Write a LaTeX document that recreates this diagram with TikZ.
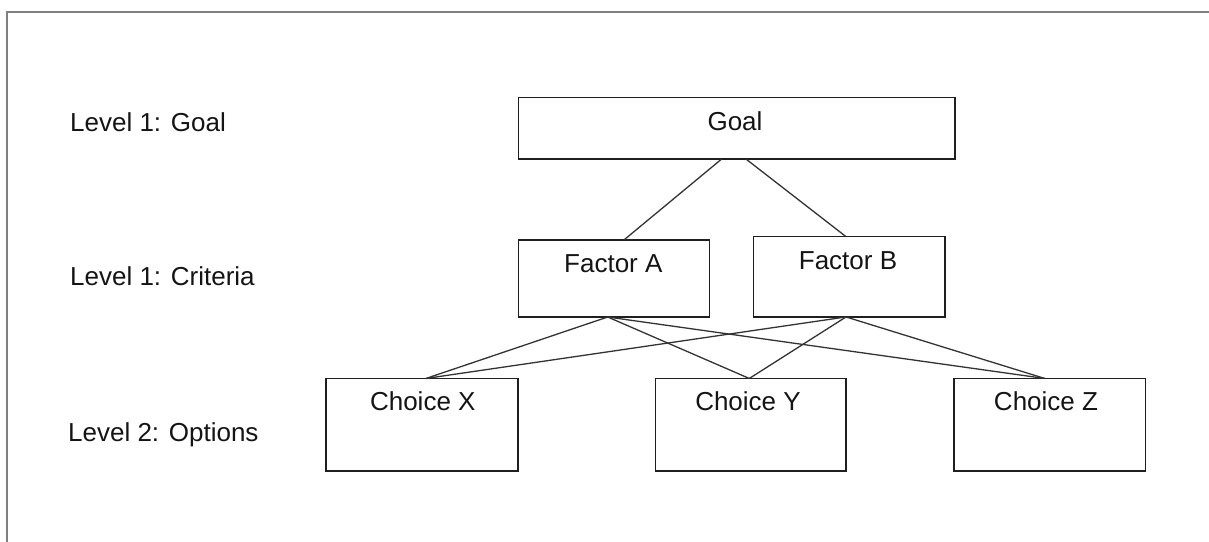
\documentclass[tikz,border=0pt]{standalone}
\usepackage{fontspec}
\setmainfont{Liberation Sans}
\usetikzlibrary{calc}
\begin{document}
\begin{tikzpicture}[x=1pt,y=-1pt,
  framecol/.style={draw=black!50,line width=2pt},
  hbox/.style={draw=black!88,line width=1.4pt,rectangle,inner sep=0pt,outer sep=0pt},
  lbl/.style={inner sep=0pt,text=black!92,font=\fontsize{26}{30}\selectfont},
  link/.style={draw=black!80,line width=1.3pt}]
\useasboundingbox (0,0) rectangle (1209,541);
% open frame around the sheet
\draw[framecol] (7,545) -- (7,11.7) -- (1215,11.7);

% level captions
\node[lbl,anchor=base west] (lgoal) at (70,131.5) {Level 1: Goal};
\node[lbl,anchor=base west] (lcrit) at (70,285) {Level 1: Criteria};
\node[lbl,anchor=base west] (lopt)  at (68,441) {Level 2: Options};

% boxes
\node[hbox,minimum width=436.7pt,minimum height=61.7pt] (goal) at (736.6,128.2) {};
\node[hbox,minimum width=191.2pt,minimum height=77pt]   (fa)   at (613.9,278.5) {};
\node[hbox,minimum width=191.7pt,minimum height=80.3pt] (fb)   at (849.2,276.8) {};
\node[hbox,minimum width=192pt,minimum height=92.5pt]   (cx)   at (422,424.7) {};
\node[hbox,minimum width=190.5pt,minimum height=92.5pt] (cy)   at (750.7,424.7) {};
\node[hbox,minimum width=191.5pt,minimum height=92.5pt] (cz)   at (1049.7,424.7) {};

% box titles
\node[lbl,anchor=base] (goalt) at (735,130.7) {Goal};
\node[lbl,anchor=base] (fat)   at (613.3,272.7) {Factor A};
\node[lbl,anchor=base] (fbt)   at (848,269) {Factor B};
\node[lbl,anchor=base] (cxt)   at (422.8,410) {Choice X};
\node[lbl,anchor=base] (cyt)   at (748,410) {Choice Y};
\node[lbl,anchor=base] (czt)   at (1046,410) {Choice Z};

% attachment points on the box edges
\coordinate (gs1) at ($(goal.south)+(-15,0)$);
\coordinate (gs2) at ($(goal.south)+(9.4,0)$);
\coordinate (fan) at ($(fa.north)+(10,0)$);
\coordinate (fbn) at ($(fb.north)+(-3.2,0)$);
\coordinate (fas) at ($(fa.south)+(-6.2,0)$);
\coordinate (fbs) at ($(fb.south)+(-3.2,0)$);
\coordinate (cxn) at ($(cx.north)+(4,0)$);
\coordinate (cyn) at ($(cy.north)+(-1.4,0)$);
\coordinate (czn) at ($(cz.north)+(-5,0)$);

% connectors
\draw[link] (gs1) -- (fan);
\draw[link] (gs2) -- (fbn);
\draw[link] (fas) -- (cxn);
\draw[link] (fas) -- (cyn);
\draw[link] (fas) -- (czn);
\draw[link] (fbs) -- (cxn);
\draw[link] (fbs) -- (cyn);
\draw[link] (fbs) -- (czn);
\end{tikzpicture}
\end{document}
